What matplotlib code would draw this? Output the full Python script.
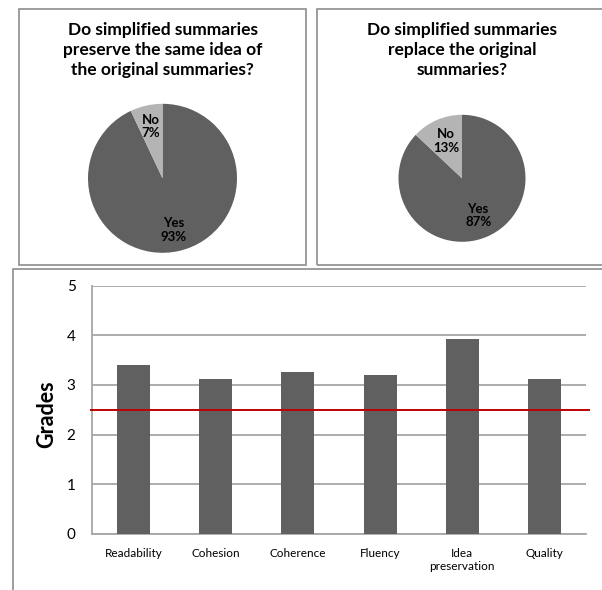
import matplotlib.pyplot as plt
from matplotlib.patches import Rectangle
import numpy as np

# Survey answers (percent)
pie1_title = "Do simplified summaries\npreserve the same idea of\nthe original summaries?"
pie1_labels = ["Yes", "No"]
pie1_values = [93, 7]

pie2_title = "Do simplified summaries\nreplace the original\nsummaries?"
pie2_labels = ["Yes", "No"]
pie2_values = [87, 13]

# Mean grades per criterion
criteria = ["Readability", "Cohesion", "Coherence", "Fluency", "Idea\npreservation", "Quality"]
grades = [3.40, 3.12, 3.26, 3.20, 3.93, 3.12]
threshold = 2.5

FONT = ["Lato", "DejaVu Sans"]
DARK = "#606060"
LIGHT = "#b4b4b4"
BORDER = "#8c8c8c"

W, H = 602, 590
fig = plt.figure(figsize=(W / 100, H / 100), dpi=100)
plt.rcParams['font.family'] = FONT


def px_rect(x0, y0, x1, y1):
    # pixel box (top-left origin) -> figure fraction rect
    return [x0 / W, 1 - y1 / H, (x1 - x0) / W, (y1 - y0) / H]


# panel frames
for x0, y0, x1, y1 in [(18.5, 9, 306, 265), (316.5, 9, 640, 265), (12.5, 268.5, 640, 640)]:
    fig.patches.append(Rectangle((x0 / W, 1 - y1 / H), (x1 - x0) / W, (y1 - y0) / H,
                                 transform=fig.transFigure, fill=False,
                                 edgecolor=BORDER, linewidth=1.2))


def draw_pie(cx, cy, r, values, labels, title, label_r):
    ax = fig.add_axes(px_rect(cx - r, cy - r, cx + r, cy + r))
    wedges, _ = ax.pie(values, colors=[DARK, LIGHT], startangle=90,
                       counterclock=False, radius=1)
    ax.set_xlim(-1, 1)
    ax.set_ylim(-1, 1)
    ax.set_aspect('equal')
    ax.axis('off')
    for w, lab, v in zip(wedges, labels, values):
        ang = np.deg2rad((w.theta1 + w.theta2) / 2)
        ax.text(label_r * np.cos(ang), label_r * np.sin(ang), f"{lab}\n{v}%",
                ha='center', va='center', fontsize=9.5, fontweight='bold',
                linespacing=1.15, color='black')
    fig.text(cx / W, 1 - 50 / H, title, ha='center', va='center',
             fontsize=12.5, fontweight='bold', linespacing=1.3)


draw_pie(162.5, 178.3, 74.5, pie1_values, pie1_labels, pie1_title, 0.71)
draw_pie(462, 178.3, 63.5, pie2_values, pie2_labels, pie2_title, 0.64)

# bar chart of grades
ax = fig.add_axes(px_rect(92.3, 285.7, 585.7, 533.7))
x = np.arange(len(criteria))
ax.bar(x, grades, width=0.4, color=DARK, zorder=3)
ax.set_xlim(-0.5, len(criteria) - 0.5)
ax.set_ylim(0, 5)
ax.set_yticks(range(0, 6))
ax.set_xticks(x)
ax.set_xticklabels(criteria, fontsize=8.5, linespacing=1.3)
ax.tick_params(axis='y', length=0, pad=12, labelsize=11)
ax.tick_params(axis='x', length=0, pad=10)
ax.grid(axis='y', color='#a6a6a6', linewidth=1.3, zorder=0)
ax.set_axisbelow(True)
for side in ['top', 'right']:
    ax.spines[side].set_visible(False)
for side in ['left', 'bottom']:
    ax.spines[side].set_color('#a6a6a6')
    ax.spines[side].set_linewidth(1.3)
ax.axhline(threshold, xmin=-0.003, xmax=1.007, color='#c00000', linewidth=1.4,
           clip_on=False, zorder=4)
ax.set_ylabel("Grades", fontsize=15.5, fontweight='bold')
ax.yaxis.set_label_coords(-0.072, 0.48)

fig.savefig("out.png", dpi=100)
